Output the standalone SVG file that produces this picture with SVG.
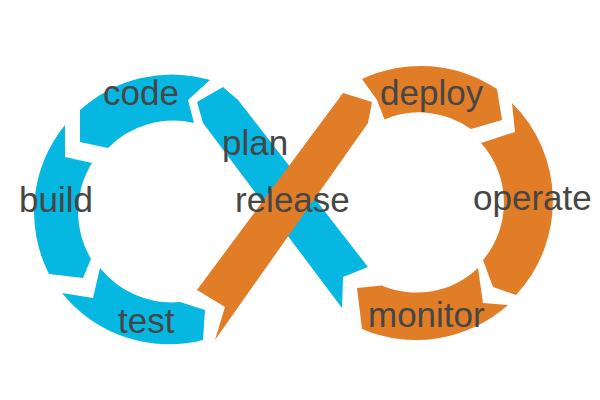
<svg xmlns="http://www.w3.org/2000/svg" width="600" height="400" viewBox="0 0 600 400">
<style>
.b{fill:#06B7E2}
.o{fill:#E27D27}
text{font-family:"Liberation Sans",Arial,sans-serif;font-size:35px;fill:#464646}
</style>
<rect width="600" height="400" fill="#fff"/>
<g id="code">
<path class="b" d="M210,80 A137 137 0 0 0 80,110 L80,142 L108,148 A92 92 0 0 1 194,123 L188,100 Z"/>
<text x="103" y="105">code</text>
</g>
<g id="build">
<path class="b" d="M65,125 A137 137 0 0 0 49,274 L83,278 L91,259 A92 92 0 0 1 92,163 L65,157 Z"/>
<text x="19" y="212">build</text>
</g>
<g id="test">
<path class="b" d="M62,293 L93,298 L100,268 A92 92 0 0 0 180,302 L205,310 L203,340 A137 137 0 0 1 62,293 Z"/>
<text x="118" y="333">test</text>
</g>
<g id="plan">
<path class="b" d="M223,87 L238,100 L368,267 L343,277 L342,308 L203,123 L197,102 Z"/>
<text x="222" y="155">plan</text>
</g>
<g id="deploy">
<path class="o" d="M362,79 A138 138 0 0 1 497,89 L502,120 L471,129 A89 89 0 0 0 384.6,119.4 L377,100 Z"/>
<text x="380" y="105">deploy</text>
</g>
<g id="operate">
<path class="o" d="M512,103 A138 138 0 0 1 516,295 L493,287 L483,260 A89 89 0 0 0 481,143 L515,132 Z"/>
<text x="473" y="210">operate</text>
</g>
<g id="monitor">
<path class="o" d="M508,305 L483,303 L478,268 A89 89 0 0 1 381.7,285.5 L357,288 L362,329 A138 138 0 0 0 508,305 Z"/>
<text x="368" y="327">monitor</text>
</g>
<g id="release">
<path class="o" d="M197,290 L343,93 L372,102 L368,123 L215,340 L225,307 Z"/>
<text x="235" y="212">release</text>
</g>
</svg>
